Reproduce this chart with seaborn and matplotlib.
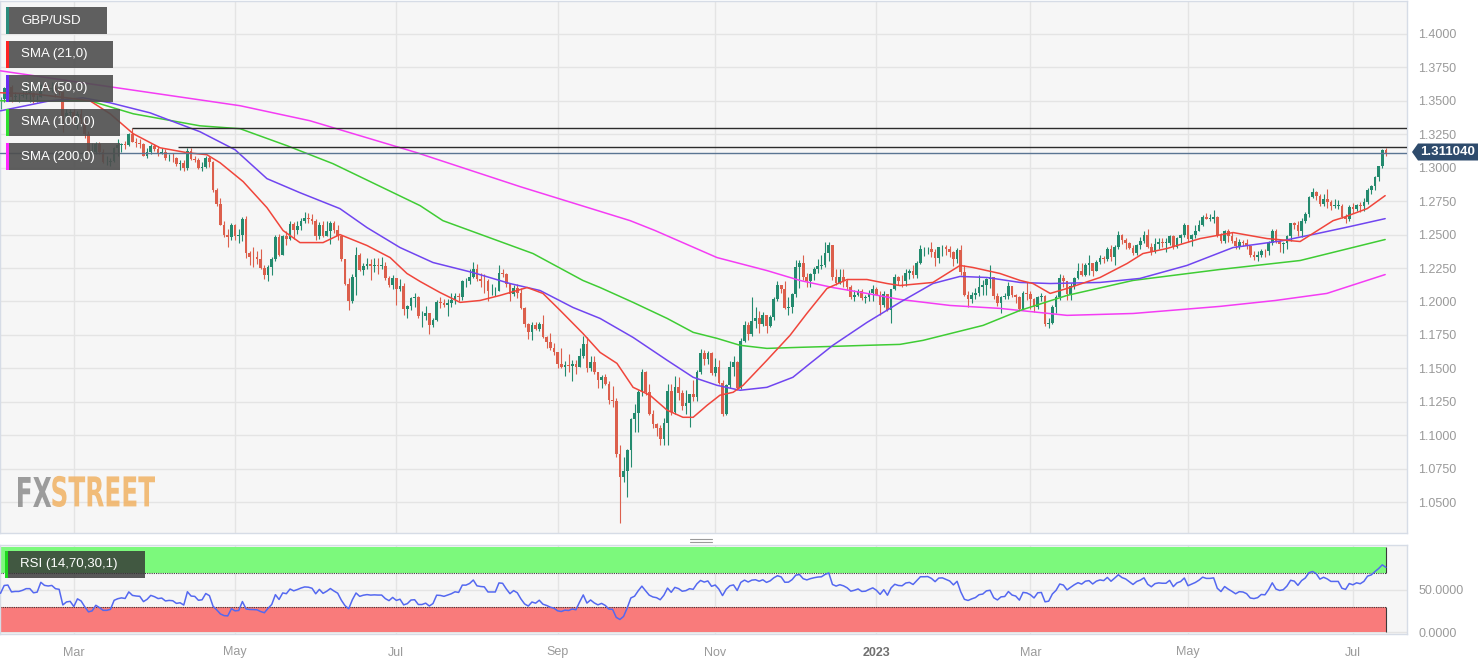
# GBP/USD daily candles with SMA 21/50/100/200 and RSI(14), FXStreet chart style

import numpy as np
import pandas as pd
import matplotlib
matplotlib.use("Agg")
import matplotlib.pyplot as plt
import matplotlib.transforms as mtransforms
import seaborn as sns
from matplotlib.patches import Rectangle, Polygon, PathPatch
from matplotlib.textpath import TextPath
from matplotlib.font_manager import FontProperties

# one candle per weekday, 1 Feb 2022 .. 14 Jul 2023 (open = previous close)
first_open = 1.3445
close = [
    1.3515, 1.3595, 1.3600, 1.3530, 1.3535, 1.3535, 1.3545, 1.3560, 1.3560, 1.3525, 1.3530, 1.3620, 1.3595, 1.3590, 1.3595, 1.3570, 1.3565, 1.3385, 1.3410, 1.3415,  # Feb 22
    1.3330, 1.3400, 1.3365, 1.3250, 1.3110, 1.3120, 1.3180, 1.3120, 1.3040, 1.3040, 1.3050, 1.3150, 1.3170, 1.3180, 1.3170, 1.3250, 1.3195, 1.3185, 1.3180, 1.3090, 1.3115, 1.3160, 1.3140,  # Mar
    1.3110, 1.3115, 1.3070, 1.3075, 1.3070, 1.3030, 1.3035, 1.3000, 1.3125, 1.3065, 1.3060, 1.3000, 1.3005, 1.3070, 1.3040, 1.2835, 1.2730, 1.2575, 1.2495, 1.2480, 1.2570,  # Apr
    1.2490, 1.2495, 1.2620, 1.2360, 1.2335, 1.2330, 1.2320, 1.2250, 1.2200, 1.2260, 1.2315, 1.2485, 1.2350, 1.2490, 1.2470, 1.2580, 1.2535, 1.2565, 1.2600, 1.2625, 1.2620, 1.2600,  # May
    1.2490, 1.2575, 1.2490, 1.2530, 1.2585, 1.2535, 1.2490, 1.2315, 1.2130, 1.2000, 1.2180, 1.2350, 1.2235, 1.2265, 1.2280, 1.2265, 1.2270, 1.2265, 1.2265, 1.2175, 1.2120, 1.2175,  # Jun
    1.2095, 1.2115, 1.1945, 1.1965, 1.2025, 1.2030, 1.1890, 1.1890, 1.1910, 1.1825, 1.1860, 1.1995, 1.1990, 1.1970, 1.1990, 1.2010, 1.2040, 1.2030, 1.2150, 1.2150, 1.2180,  # Jul
    1.2245, 1.2165, 1.2155, 1.2150, 1.2075, 1.2075, 1.2075, 1.2210, 1.2205, 1.2130, 1.2055, 1.2100, 1.2065, 1.1950, 1.1830, 1.1770, 1.1825, 1.1795, 1.1835, 1.1735, 1.1700, 1.1650, 1.1620,  # Aug
    1.1535, 1.1510, 1.1525, 1.1515, 1.1530, 1.1510, 1.1590, 1.1680, 1.1500, 1.1545, 1.1470, 1.1415, 1.1435, 1.1380, 1.1265, 1.1255, 1.0860, 1.0685, 1.0735, 1.0890, 1.1120, 1.1165,  # Sep
    1.1320, 1.1475, 1.1325, 1.1160, 1.1085, 1.1055, 1.0970, 1.1095, 1.1330, 1.1175, 1.1360, 1.1315, 1.1220, 1.1240, 1.1305, 1.1285, 1.1475, 1.1615, 1.1570, 1.1615, 1.1465,  # Oct
    1.1510, 1.1390, 1.1160, 1.1375, 1.1510, 1.1545, 1.1350, 1.1705, 1.1825, 1.1760, 1.1855, 1.1875, 1.1830, 1.1895, 1.1820, 1.1885, 1.2020, 1.2120, 1.2090, 1.1950, 1.1955, 1.2055,  # Nov
    1.2255, 1.2285, 1.2185, 1.2155, 1.2205, 1.2240, 1.2265, 1.2275, 1.2365, 1.2420, 1.2180, 1.2140, 1.2180, 1.2155, 1.2110, 1.2030, 1.2050, 1.2080, 1.2025, 1.2030, 1.2065, 1.2095,  # Dec
    1.2050, 1.1970, 1.2055, 1.1935, 1.2090, 1.2180, 1.2155, 1.2150, 1.2215, 1.2230, 1.2195, 1.2285, 1.2390, 1.2390, 1.2395, 1.2370, 1.2325, 1.2405, 1.2410, 1.2390, 1.2370, 1.2320,  # Jan 23
    1.2385, 1.2220, 1.2050, 1.2020, 1.2045, 1.2065, 1.2110, 1.2120, 1.2170, 1.2180, 1.2040, 1.1990, 1.2035, 1.2040, 1.2115, 1.2050, 1.2030, 1.1945, 1.2065, 1.2055,  # Feb
    1.2020, 1.1955, 1.2035, 1.2040, 1.1830, 1.1840, 1.1960, 1.2030, 1.2175, 1.2155, 1.2055, 1.2115, 1.2175, 1.2225, 1.2200, 1.2270, 1.2285, 1.2230, 1.2295, 1.2325, 1.2315, 1.2390, 1.2335,  # Mar
    1.2410, 1.2500, 1.2460, 1.2440, 1.2400, 1.2360, 1.2420, 1.2450, 1.2500, 1.2410, 1.2370, 1.2430, 1.2445, 1.2440, 1.2440, 1.2490, 1.2410, 1.2475, 1.2500, 1.2570,  # Apr
    1.2465, 1.2495, 1.2525, 1.2570, 1.2635, 1.2620, 1.2620, 1.2630, 1.2500, 1.2450, 1.2530, 1.2490, 1.2455, 1.2415, 1.2445, 1.2440, 1.2415, 1.2345, 1.2335, 1.2345, 1.2380, 1.2375, 1.2435,  # May
    1.2530, 1.2450, 1.2430, 1.2440, 1.2490, 1.2585, 1.2575, 1.2525, 1.2605, 1.2655, 1.2780, 1.2815, 1.2790, 1.2725, 1.2765, 1.2745, 1.2715, 1.2715, 1.2715, 1.2635, 1.2620, 1.2705,  # Jun
    1.2690, 1.2720, 1.2710, 1.2745, 1.2835, 1.2860, 1.2930, 1.3010, 1.3135, 1.3110,  # Jul
]
high = [
    1.3530, 1.3600, 1.3625, 1.3615, 1.3565, 1.3555, 1.3580, 1.3645, 1.3585, 1.3565, 1.3545, 1.3625, 1.3645, 1.3620, 1.3640, 1.3625, 1.3595, 1.3570, 1.3435, 1.3435,
    1.3440, 1.3420, 1.3435, 1.3375, 1.3275, 1.3185, 1.3190, 1.3190, 1.3140, 1.3090, 1.3075, 1.3155, 1.3215, 1.3185, 1.3200, 1.3260, 1.3298, 1.3220, 1.3215, 1.3185, 1.3150, 1.3180, 1.3175,
    1.3165, 1.3150, 1.3140, 1.3105, 1.3110, 1.3080, 1.3055, 1.3055, 1.3150, 1.3145, 1.3085, 1.3075, 1.3040, 1.3090, 1.3090, 1.3050, 1.2845, 1.2770, 1.2600, 1.2545, 1.2585,
    1.2580, 1.2545, 1.2635, 1.2640, 1.2380, 1.2405, 1.2380, 1.2390, 1.2270, 1.2275, 1.2330, 1.2500, 1.2505, 1.2500, 1.2525, 1.2600, 1.2595, 1.2600, 1.2625, 1.2667, 1.2660, 1.2650,
    1.2615, 1.2595, 1.2600, 1.2600, 1.2600, 1.2600, 1.2570, 1.2500, 1.2320, 1.2175, 1.2205, 1.2406, 1.2365, 1.2285, 1.2325, 1.2315, 1.2325, 1.2325, 1.2330, 1.2295, 1.2190, 1.2195,
    1.2175, 1.2165, 1.2135, 1.1975, 1.2035, 1.2065, 1.2040, 1.1930, 1.1965, 1.1910, 1.1875, 1.2010, 1.2035, 1.2020, 1.2015, 1.2065, 1.2065, 1.2065, 1.2160, 1.2175, 1.2245,
    1.2293, 1.2280, 1.2210, 1.2205, 1.2170, 1.2130, 1.2110, 1.2276, 1.2240, 1.2215, 1.2135, 1.2125, 1.2130, 1.2100, 1.1960, 1.1840, 1.1845, 1.1845, 1.1850, 1.1900, 1.1745, 1.1765, 1.1690,
    1.1620, 1.1650, 1.1555, 1.1610, 1.1565, 1.1560, 1.1650, 1.1738, 1.1735, 1.1590, 1.1590, 1.1470, 1.1450, 1.1460, 1.1405, 1.1365, 1.1275, 1.0930, 1.0840, 1.0900, 1.1130, 1.1235,
    1.1340, 1.1495, 1.1480, 1.1380, 1.1185, 1.1095, 1.1075, 1.1125, 1.1380, 1.1380, 1.1440, 1.1435, 1.1340, 1.1335, 1.1310, 1.1410, 1.1485, 1.1645, 1.1640, 1.1630, 1.1625,
    1.1575, 1.1565, 1.1410, 1.1385, 1.1555, 1.1595, 1.1555, 1.1725, 1.1855, 1.1845, 1.2030, 1.1955, 1.1925, 1.1920, 1.1885, 1.1895, 1.2030, 1.2155, 1.2125, 1.2150, 1.2030, 1.2065,
    1.2310, 1.2310, 1.2345, 1.2210, 1.2215, 1.2255, 1.2320, 1.2345, 1.2445, 1.2446, 1.2425, 1.2240, 1.2240, 1.2245, 1.2170, 1.2125, 1.2085, 1.2090, 1.2095, 1.2050, 1.2085, 1.2120,
    1.2105, 1.2075, 1.2080, 1.2055, 1.2095, 1.2205, 1.2190, 1.2195, 1.2245, 1.2245, 1.2270, 1.2300, 1.2420, 1.2405, 1.2405, 1.2448, 1.2395, 1.2410, 1.2420, 1.2420, 1.2415, 1.2375,
    1.2400, 1.2420, 1.2270, 1.2080, 1.2070, 1.2100, 1.2195, 1.2160, 1.2175, 1.2270, 1.2185, 1.2060, 1.2040, 1.2060, 1.2145, 1.2115, 1.2055, 1.2040, 1.2080, 1.2145,
    1.2075, 1.2025, 1.2040, 1.2065, 1.2045, 1.1875, 1.1975, 1.2045, 1.2205, 1.2200, 1.2155, 1.2135, 1.2185, 1.2285, 1.2290, 1.2290, 1.2345, 1.2285, 1.2310, 1.2345, 1.2340, 1.2405, 1.2425,
    1.2420, 1.2525, 1.2505, 1.2475, 1.2445, 1.2425, 1.2430, 1.2485, 1.2525, 1.2545, 1.2440, 1.2475, 1.2475, 1.2475, 1.2475, 1.2495, 1.2495, 1.2480, 1.2505, 1.2584,
    1.2575, 1.2505, 1.2570, 1.2610, 1.2645, 1.2660, 1.2650, 1.2680, 1.2640, 1.2515, 1.2535, 1.2545, 1.2520, 1.2480, 1.2470, 1.2460, 1.2465, 1.2420, 1.2375, 1.2375, 1.2395, 1.2395, 1.2450,
    1.2545, 1.2545, 1.2470, 1.2445, 1.2500, 1.2590, 1.2595, 1.2605, 1.2625, 1.2670, 1.2790, 1.2848, 1.2825, 1.2805, 1.2800, 1.2840, 1.2760, 1.2765, 1.2760, 1.2730, 1.2650, 1.2720,
    1.2735, 1.2730, 1.2740, 1.2770, 1.2850, 1.2870, 1.2935, 1.3015, 1.3140, 1.3144,
]
low = [
    1.3435, 1.3490, 1.3500, 1.3490, 1.3500, 1.3490, 1.3525, 1.3510, 1.3490, 1.3485, 1.3490, 1.3525, 1.3575, 1.3575, 1.3565, 1.3530, 1.3540, 1.3270, 1.3345, 1.3345,
    1.3320, 1.3290, 1.3330, 1.3225, 1.3085, 1.3090, 1.3100, 1.3105, 1.3035, 1.3020, 1.3015, 1.3040, 1.3090, 1.3120, 1.3140, 1.3160, 1.3190, 1.3155, 1.3150, 1.3085, 1.3070, 1.3105, 1.3125,
    1.3085, 1.3100, 1.3060, 1.3050, 1.3040, 1.3010, 1.2985, 1.2975, 1.2985, 1.3055, 1.3045, 1.2990, 1.2975, 1.2995, 1.3005, 1.2820, 1.2710, 1.2570, 1.2485, 1.2410, 1.2460,
    1.2460, 1.2440, 1.2455, 1.2325, 1.2275, 1.2260, 1.2280, 1.2240, 1.2165, 1.2155, 1.2200, 1.2300, 1.2340, 1.2350, 1.2425, 1.2460, 1.2465, 1.2505, 1.2535, 1.2590, 1.2590, 1.2580,
    1.2460, 1.2465, 1.2480, 1.2490, 1.2430, 1.2510, 1.2460, 1.2305, 1.2120, 1.1935, 1.1985, 1.2045, 1.2225, 1.2195, 1.2240, 1.2160, 1.2220, 1.2205, 1.2240, 1.2160, 1.2105, 1.2090,
    1.1975, 1.2075, 1.1900, 1.1875, 1.1935, 1.1960, 1.1875, 1.1810, 1.1860, 1.1760, 1.1810, 1.1855, 1.1950, 1.1960, 1.1890, 1.1960, 1.1980, 1.2005, 1.2010, 1.2110, 1.2130,
    1.2175, 1.2150, 1.2105, 1.2065, 1.2005, 1.2050, 1.2040, 1.2075, 1.2180, 1.2110, 1.2005, 1.2040, 1.2025, 1.1940, 1.1810, 1.1720, 1.1715, 1.1785, 1.1780, 1.1730, 1.1650, 1.1640, 1.1600,
    1.1500, 1.1500, 1.1445, 1.1475, 1.1405, 1.1455, 1.1510, 1.1580, 1.1475, 1.1480, 1.1460, 1.1350, 1.1355, 1.1375, 1.1235, 1.1210, 1.0840, 1.0345, 1.0650, 1.0540, 1.0765, 1.1025,
    1.1025, 1.1290, 1.1300, 1.1150, 1.1055, 1.0995, 1.0925, 1.0925, 1.0925, 1.1150, 1.1160, 1.1260, 1.1190, 1.1160, 1.1060, 1.1255, 1.1255, 1.1460, 1.1525, 1.1535, 1.1450,
    1.1440, 1.1380, 1.1145, 1.1150, 1.1350, 1.1440, 1.1335, 1.1345, 1.1700, 1.1710, 1.1745, 1.1805, 1.1765, 1.1815, 1.1765, 1.1810, 1.1865, 1.2005, 1.2065, 1.1945, 1.1900, 1.1910,
    1.2030, 1.2100, 1.2160, 1.2105, 1.2110, 1.2160, 1.2215, 1.2240, 1.2260, 1.2305, 1.2160, 1.2125, 1.2130, 1.2105, 1.2085, 1.2015, 1.2005, 1.2040, 1.2010, 1.1990, 1.2000, 1.2005,
    1.2045, 1.1900, 1.1960, 1.1930, 1.1840, 1.2085, 1.2120, 1.2110, 1.2115, 1.2170, 1.2175, 1.2175, 1.2280, 1.2340, 1.2355, 1.2330, 1.2265, 1.2290, 1.2340, 1.2350, 1.2335, 1.2265,
    1.2285, 1.2200, 1.2040, 1.1960, 1.1990, 1.2015, 1.2040, 1.2050, 1.2045, 1.2100, 1.2020, 1.1965, 1.1915, 1.2015, 1.2020, 1.2035, 1.1990, 1.1925, 1.1935, 1.2010,
    1.1940, 1.1920, 1.1940, 1.2005, 1.1820, 1.1802, 1.1830, 1.1910, 1.2010, 1.2110, 1.2010, 1.2010, 1.2095, 1.2170, 1.2190, 1.2190, 1.2200, 1.2190, 1.2225, 1.2280, 1.2285, 1.2305, 1.2300,
    1.2275, 1.2390, 1.2430, 1.2395, 1.2395, 1.2345, 1.2345, 1.2395, 1.2440, 1.2400, 1.2345, 1.2360, 1.2395, 1.2405, 1.2370, 1.2420, 1.2395, 1.2400, 1.2435, 1.2480,
    1.2445, 1.2415, 1.2475, 1.2525, 1.2565, 1.2615, 1.2600, 1.2590, 1.2485, 1.2440, 1.2440, 1.2445, 1.2440, 1.2390, 1.2395, 1.2415, 1.2390, 1.2330, 1.2308, 1.2305, 1.2330, 1.2335, 1.2350,
    1.2420, 1.2440, 1.2370, 1.2365, 1.2395, 1.2455, 1.2540, 1.2490, 1.2485, 1.2585, 1.2635, 1.2775, 1.2760, 1.2710, 1.2710, 1.2700, 1.2685, 1.2700, 1.2690, 1.2625, 1.2590, 1.2605,
    1.2660, 1.2675, 1.2665, 1.2675, 1.2730, 1.2800, 1.2835, 1.2900, 1.3000, 1.3085,
]
# late January 2022 closes, only needed to start the 14-day RSI
jan_close = [1.3590, 1.3630, 1.3710, 1.3715, 1.3675, 1.3645, 1.3595, 1.3625,
             1.3610, 1.3550, 1.3480, 1.3500, 1.3465, 1.3390, 1.3405, 1.3445]

# moving averages (day number, value)
sma21_day = [0, 8.9, 18.1, 24.4, 29.9, 36.2, 43.5, 50.9, 56.3, 59.9, 66.2, 72.7, 77.1, 81.7, 88.0, 92.6, 100.0,
             106.3, 110.9, 114.5, 119.9, 125.4, 130.8, 136.3, 143.7, 148.0, 152.7, 158.9, 163.6, 168.2, 172.6,
             177.2, 181.9, 186.2, 189.0, 192.8, 196.3, 199.9, 202.6, 209.1, 215.4, 220.0, 225.5, 231.0, 236.4,
             241.9, 245.4, 254.4, 261.8, 265.3, 272.7, 278.2, 281.7, 286.4, 291.0, 300.0, 307.4, 311.7, 318.3,
             327.3, 336.3, 345.6, 354.6, 363.6, 366.3, 372.9, 377.8]
sma21_val = [1.3560, 1.3552, 1.3522, 1.3500, 1.3403, 1.3254, 1.3149, 1.3112, 1.3097, 1.3037, 1.2896, 1.2701,
             1.2530, 1.2440, 1.2440, 1.2500, 1.2418, 1.2328, 1.2209, 1.2149, 1.2067, 1.1993, 1.2007, 1.2045,
             1.2104, 1.2060, 1.1933, 1.1761, 1.1619, 1.1537, 1.1358, 1.1299, 1.1187, 1.1134, 1.1134, 1.1224,
             1.1299, 1.1321, 1.1373, 1.1560, 1.1746, 1.1910, 1.2097, 1.2164, 1.2164, 1.2134, 1.2119, 1.2142,
             1.2269, 1.2254, 1.2209, 1.2157, 1.2134, 1.2060, 1.2097, 1.2179, 1.2284, 1.2358, 1.2396, 1.2470,
             1.2515, 1.2470, 1.2448, 1.2604, 1.2627, 1.2694, 1.2791]
sma50_day = [0, 13.5, 22.5, 29.9, 40.8, 54.4, 64.0, 72.7, 81.7, 92.6, 100.0, 109.0, 118.0, 128.9, 139.0,
             147.2, 156.2, 163.6, 172.6, 181.9, 189.0, 195.5, 201.8, 209.1, 216.2, 220.9, 227.1, 236.4,
             245.4, 254.4, 261.8, 269.2, 278.2, 286.4, 300.0, 310.9, 323.7, 336.3, 350.0, 359.2, 368.2, 377.8]
sma50_val = [1.3425, 1.3500, 1.3522, 1.3485, 1.3410, 1.3269, 1.3134, 1.2918, 1.2813, 1.2694, 1.2552, 1.2403,
             1.2291, 1.2216, 1.2134, 1.2082, 1.1955, 1.1873, 1.1731, 1.1560, 1.1433, 1.1373, 1.1336, 1.1358,
             1.1433, 1.1537, 1.1672, 1.1843, 1.1993, 1.2134, 1.2187, 1.2179, 1.2142, 1.2134, 1.2142, 1.2172,
             1.2269, 1.2403, 1.2455, 1.2507, 1.2560, 1.2619]
sma100_day = [0, 24.4, 36.2, 54.4, 65.4, 78.2, 90.7, 114.5, 120.7, 145.3, 158.9, 163.6, 172.6, 181.9, 189.0,
              195.5, 201.8, 209.1, 218.1, 227.1, 236.4, 245.4, 251.7, 268.1, 278.2, 291.0, 309.0, 332.7,
              354.6, 377.8]
sma100_val = [1.3500, 1.3500, 1.3403, 1.3313, 1.3291, 1.3164, 1.3030, 1.2716, 1.2604, 1.2358, 1.2157,
              1.2104, 1.1993, 1.1873, 1.1769, 1.1724, 1.1672, 1.1649, 1.1657, 1.1664, 1.1672, 1.1679,
              1.1709, 1.1821, 1.1933, 1.2045, 1.2157, 1.2239, 1.2306, 1.2463]
sma200_day = [0, 65.4, 84.4, 113.6, 141.8, 171.8, 178.6, 195.5, 209.1, 218.1, 227.1, 236.4, 245.4, 259.1,
              272.7, 291.0, 309.0, 332.7, 347.8, 361.9, 377.8]
sma200_val = [1.3724, 1.3463, 1.3351, 1.3112, 1.2858, 1.2604, 1.2530, 1.2328, 1.2231, 1.2157, 1.2104,
              1.2060, 1.2015, 1.1970, 1.1948, 1.1896, 1.1910, 1.1963, 1.2007, 1.2060, 1.2201]

# horizontal levels drawn on the chart (price, first day)
level_prices = [1.3299, 1.3157]
level_start = [36, 48.5]
last_price = 1.311040

W, H = 1481, 662
C_UP, C_DN = "#238a6e", "#dc5f4c"
C_SMA = {"21": "#f0453b", "50": "#7045f0", "100": "#3fcc34", "200": "#f43cf4"}

sns.set_style("white")
plt.rcParams["font.family"] = ["Liberation Sans", "DejaVu Sans"]

dates = pd.bdate_range("2022-02-01", "2023-07-14")
assert len(dates) == len(close) == len(high) == len(low)
n = len(dates)
day = np.arange(n)
opens = np.array([first_open] + close[:-1])
closes = np.array(close)

fig = plt.figure(figsize=(W / 100, H / 100), dpi=100)
fig.patch.set_facecolor("white")
ax = fig.add_axes([0, 1 - 533 / H, 1407 / W, 532 / H])
ax_rsi = fig.add_axes([0, 1 - 634 / H, 1407 / W, 89 / H])

xlim = (-0.14, 383.76)
first_of_month = pd.Series(dates.to_period("M")).drop_duplicates().index
tick_pos = [i for i in first_of_month if dates[i].month % 2 == 1]
tick_lab = ["2023" if dates[i].month == 1 else dates[i].strftime("%b") for i in tick_pos]

for a in (ax, ax_rsi):
    a.set_facecolor("#f6f6f6")
    a.set_xlim(*xlim)
    a.set_xticks(tick_pos)
    a.grid(True, color="#e4e4e4", lw=1.0)
    a.set_axisbelow(True)
    for s in a.spines.values():
        s.set_color("#d6dce6")
        s.set_linewidth(1.0)
    a.yaxis.tick_right()
    a.tick_params(axis="y", length=0, pad=8, labelsize=9, labelcolor="#9a9a9a")

# ---- candles
up = closes >= opens
colors = np.where(up, C_UP, C_DN)
ax.vlines(day, low, high, colors=colors, lw=0.8, zorder=2)
body_lo = np.minimum(opens, closes)
body_h = np.maximum(np.abs(closes - opens), 0.0004)
ax.bar(day, body_h, bottom=body_lo, width=0.74, color=colors, lw=0, zorder=2)

# ---- moving averages
for key, xs, ys in [("200", sma200_day, sma200_val), ("100", sma100_day, sma100_val),
                    ("50", sma50_day, sma50_val), ("21", sma21_day, sma21_val)]:
    sns.lineplot(x=xs, y=ys, ax=ax, color=C_SMA[key], lw=1.1, sort=False,
                 estimator=None, legend=False, zorder=3)

# ---- levels and last price line
for p, s in zip(level_prices, level_start):
    ax.hlines(p, s, xlim[1], color="#2c2c2c", lw=1.0, zorder=4)
ax.axhline(last_price, color="#5a7593", lw=1.0, zorder=4)

ax.set_ylim(1.0269, 1.4246)
ax.set_yticks(np.arange(1.05, 1.4001, 0.025))
ax.yaxis.set_major_formatter(plt.FormatStrFormatter("%.4f"))
ax.tick_params(axis="x", length=0, labelbottom=False)
ax.set_xlabel("")
ax.set_ylabel("")

# ---- RSI panel
all_close = pd.Series(jan_close + close)
delta = all_close.diff()
avg_gain = delta.clip(lower=0).ewm(alpha=1 / 14, adjust=True).mean()
avg_loss = (-delta.clip(upper=0)).ewm(alpha=1 / 14, adjust=True).mean()
rsi = (100 - 100 / (1 + avg_gain / avg_loss)).iloc[len(jan_close):].to_numpy()

last = day[-1]
ax_rsi.add_patch(Rectangle((xlim[0], 70), last - xlim[0], 30, facecolor="#7cf97c", lw=0, zorder=1))
ax_rsi.add_patch(Rectangle((xlim[0], 0), last - xlim[0], 30, facecolor="#f97b7b", lw=0, zorder=1))
ax_rsi.hlines([70, 30], xlim[0], last, colors="#3a3a3a", lw=0.8, linestyles=(0, (1, 1)), zorder=2)
ax_rsi.vlines(last, 70, 100, colors="#3a3a3a", lw=0.8, zorder=2)
ax_rsi.vlines(last, 0, 30, colors="#3a3a3a", lw=0.8, zorder=2)
sns.lineplot(x=day, y=rsi, ax=ax_rsi, color="#5468f0", lw=1.1, legend=False, zorder=3)

ax_rsi.set_ylim(-2.1, 102.6)
ax_rsi.set_yticks([0, 50])
ax_rsi.set_yticklabels(["0.0000", "50.0000"])
ax_rsi.set_xticklabels(tick_lab)
ax_rsi.tick_params(axis="x", length=0, pad=9, labelsize=9, labelcolor="#9a9a9a")
for t in ax_rsi.get_xticklabels():
    if t.get_text() == "2023":
        t.set_fontweight("bold")
        t.set_color("#707070")
ax_rsi.set_xlabel("")
ax_rsi.set_ylabel("")

# ---- overlays in pixel coordinates
px = mtransforms.Affine2D().scale(1 / W, 1 / H) + fig.transFigure


def label_box(x0, y0, w, h, text, strip, face="#4e4e4e", alpha=0.9):
    fig.add_artist(Rectangle((x0, H - y0 - h), w, h, transform=px, facecolor=face, alpha=alpha, lw=0))
    fig.add_artist(Rectangle((x0, H - y0 - h), 3, h, transform=px, facecolor=strip, lw=0))
    fig.text((x0 + 15) / W, 1 - (y0 + h / 2) / H, text, color="white", fontsize=9.5,
             va="center", ha="left")


label_box(6, 7, 101, 27, "GBP/USD", "#2a8c7c")
label_box(6, 41, 107, 27, "SMA (21,0)", "#ff2222")
label_box(6, 75, 107, 27, "SMA (50,0)", "#6a2cf2")
label_box(6, 109, 114, 27, "SMA (100,0)", "#2ee02e")
label_box(6, 143, 114, 27, "SMA (200,0)", "#ff26ff")
label_box(5, 551, 140, 27, "RSI (14,70,30,1)", "#1fd81f", face="#353535", alpha=0.82)

# last price tag
tag = [(1412, H - 152), (1418, H - 143.5), (1478, H - 143.5), (1478, H - 160.5), (1418, H - 160.5)]
fig.add_artist(Polygon(tag, closed=True, transform=px, facecolor="#2e4b6c", lw=0))
fig.text(1448 / W, 1 - 152 / H, f"{last_price:.6f}", color="white", fontsize=9.5,
         fontweight="bold", ha="center", va="center")

# pane splitter handle
for yy in (538.5, 541.5):
    fig.add_artist(plt.Line2D([690 / W, 712 / W], [1 - yy / H, 1 - yy / H], color="#9a9a9a", lw=0.8))

# FXSTREET watermark
fp = FontProperties(family="DejaVu Sans", weight="bold")
p_fx = TextPath((0, 0), "FX", size=10, prop=fp)
p_st = TextPath((0, 0), "STREET", size=10, prop=fp)
e1, e2 = p_fx.get_extents(), p_st.get_extents()
sx = 137 / (e1.width + e2.width + 0.4)
sy = 30 / e1.height
t1 = mtransforms.Affine2D().translate(-e1.x0, -e1.y0).scale(sx, sy).translate(18, H - 507) + px
t2 = mtransforms.Affine2D().translate(-e2.x0, -e2.y0).scale(sx, sy).translate(18 + (e1.width + 0.4) * sx, H - 507) + px
fig.add_artist(PathPatch(p_fx, transform=t1, facecolor="#8c8c8c", lw=0, alpha=0.85))
fig.add_artist(PathPatch(p_st, transform=t2, facecolor="#f1b263", lw=0, alpha=0.85))

fig.savefig("out.png", dpi=100, facecolor="white")
